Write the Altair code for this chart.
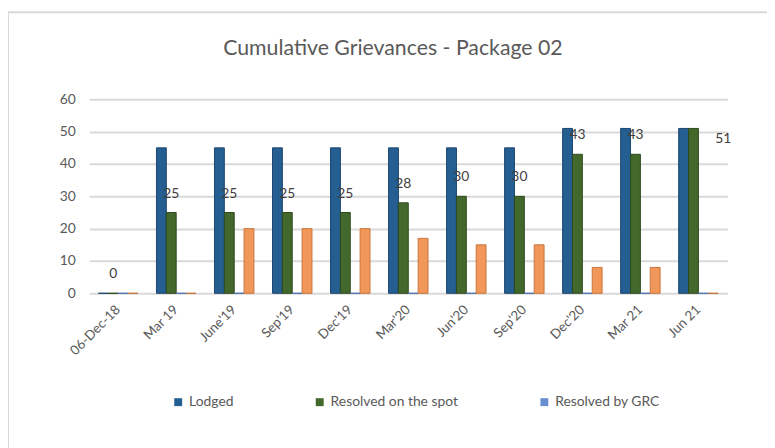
import altair as alt
import pandas as pd

# ---- data ----
categories = ["06-Dec-18", "Mar 19", "June'19", "Sep'19", "Dec'19", "Mar'20",
              "Jun'20", "Sep'20", "Dec'20", "Mar 21", "Jun 21"]
lodged = [0, 45, 45, 45, 45, 45, 45, 45, 51, 51, 51]
resolved_spot = [0, 25, 25, 25, 25, 28, 30, 30, 43, 43, 51]
resolved_grc = [0, 0, 0, 0, 0, 0, 0, 0, 0, 0, 0]
pending = [0, 0, 20, 20, 20, 17, 15, 15, 8, 8, 0]

series_names = ["Lodged", "Resolved on the spot", "Resolved by GRC", "Pending"]
legend_names = ["Lodged", "Resolved on the spot", "Resolved by GRC"]
series_colors = ["#255E91", "#43682B", "#698ED0", "#F1975A"]
edge_colors = ["#1A4670", "#2E4A1D", "#4F72B0", "#C8743C"]
title_text = "Cumulative Grievances - Package 02"
y_ticks = [0, 10, 20, 30, 40, 50, 60]

rows = []
for name, vals in zip(series_names, [lodged, resolved_spot, resolved_grc, pending]):
    for c, v in zip(categories, vals):
        rows.append({"category": c, "series": name, "value": v})
df = pd.DataFrame(rows)

FONT = "Lato"
W, H = 645, 196

x_enc = alt.X(
    "category:N", sort=categories,
    scale=alt.Scale(paddingInner=0.32, paddingOuter=0.16),
    axis=alt.Axis(title=None, labelAngle=315, labelAlign="right", labelBaseline="middle",
                  labelPadding=14, ticks=False, domain=False, labelFontSize=13.5,
                  labelColor="#595959", labelFont=FONT),
)
xo_enc = alt.XOffset("series:N", sort=series_names,
                     scale=alt.Scale(domain=series_names, paddingInner=0, paddingOuter=0))
y_enc = alt.Y(
    "value:Q", scale=alt.Scale(domain=[0, 60], nice=False),
    axis=alt.Axis(title=None, values=y_ticks, ticks=False, domain=False, labelPadding=14,
                  grid=True, gridColor="#D9D9D9", gridWidth=2, labelFontSize=14,
                  labelColor="#595959", labelFont=FONT),
)

base = alt.Chart(df)

bars = base.mark_bar(strokeWidth=1).encode(
    x=x_enc, xOffset=xo_enc, y=y_enc,
    color=alt.Color("series:N", scale=alt.Scale(domain=series_names, range=series_colors),
                    legend=alt.Legend(values=legend_names, orient="none", legendX=83, legendY=299,
                                      direction="horizontal", title=None, symbolType="square",
                                      symbolSize=64, symbolStrokeWidth=0, labelFontSize=14,
                                      labelColor="#595959", labelFont=FONT, columnPadding=80)),
    stroke=alt.Stroke("series:N", scale=alt.Scale(domain=series_names, range=edge_colors),
                      legend=None),
)

labels = base.transform_filter(
    (alt.datum.series == "Resolved on the spot") & (alt.datum.category != categories[-1])
).mark_text(dy=-19, fontSize=14, color="#404040", font=FONT).encode(
    x=x_enc, xOffset=xo_enc, y=y_enc, text="value:Q")

last_label = base.transform_filter(
    (alt.datum.series == "Resolved on the spot") & (alt.datum.category == categories[-1])
).mark_text(dx=30, dy=11, fontSize=14, color="#404040", font=FONT).encode(
    x=x_enc, xOffset=xo_enc, y=y_enc, text="value:Q")

frame = alt.Chart(pd.DataFrame({"k": [0]})).mark_rect(
    fill="transparent", stroke="#D9D9D9", strokeWidth=2, clip=False
).encode(x=alt.value(-82), x2=alt.value(720), y=alt.value(-88), y2=alt.value(400))

title = alt.Chart(pd.DataFrame({"t": [title_text]})).mark_text(
    fontSize=21.5, color="#595959", font=FONT, align="center", baseline="middle"
).encode(x=alt.value(307), y=alt.value(-51), text="t:N")

chart = alt.layer(frame, bars, labels, last_label, title).properties(
    width=W, height=H,
    autosize=alt.AutoSizeParams(type="none"),
    padding={"left": 82, "top": 90, "right": 40, "bottom": 154},
).configure_view(strokeWidth=0)

chart.save("out.html", embed_options={"renderer": "svg", "actions": False})
